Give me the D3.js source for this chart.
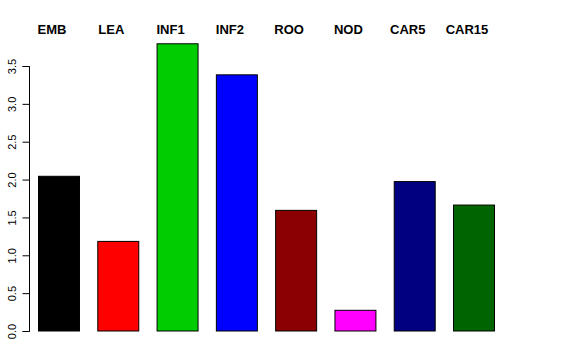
<!DOCTYPE html>
<html><head><meta charset="utf-8">
<script src="https://cdn.jsdelivr.net/npm/d3@7"></script>
<style>body{margin:0;background:#fff}svg{display:block}</style>
</head><body>
<svg id="c" width="576" height="360"></svg>
<script>
const categories = ["EMB","LEA","INF1","INF2","ROO","NOD","CAR5","CAR15"];
const values = [2.05, 1.19, 3.80, 3.39, 1.60, 0.28, 1.98, 1.67];
const colors = ["#000000","#FF0000","#00CD00","#0000FF","#8B0000","#FF00FF","#000080","#006400"];
const yTicks = [0, 0.5, 1, 1.5, 2, 2.5, 3, 3.5];

const svg = d3.select("#c");
const x = d3.scaleBand().domain(categories).range([38, 495]).paddingInner(0.292).paddingOuter(0);
const y = d3.scaleLinear().domain([0, 3.5]).range([331, 66]);

svg.selectAll("rect.bar").data(categories).enter().append("rect")
  .attr("x", d => x(d) + 0.5)
  .attr("y", (d,i) => y(values[i]) + 0.5)
  .attr("width", x.bandwidth() - 1)
  .attr("height", (d,i) => y(0) - y(values[i]) - 0.5)
  .attr("fill", (d,i) => colors[i])
  .attr("stroke", "#000")
  .attr("stroke-width", 1);

svg.selectAll("text.lab").data(categories).enter().append("text")
  .attr("x", d => x(d) + x.bandwidth()/2 - 7)
  .attr("y", 33.5)
  .attr("text-anchor", "middle")
  .attr("font-family", "Liberation Sans, Arial, sans-serif")
  .attr("font-weight", "bold")
  .attr("font-size", "13px")
  .text(d => d);

const axis = d3.axisLeft(y).tickValues(yTicks).tickFormat(d3.format(".1f")).tickSize(7).tickPadding(5);
const g = svg.append("g").attr("transform", "translate(29.5,0)").call(axis);
g.select(".domain").attr("d", `M-7,${y(0)+0.5}H0V${y(3.5)+0.5}H-7`).attr("stroke", "#000");
g.selectAll(".tick line").attr("stroke", "#000");
g.selectAll(".tick text")
  .attr("font-family", "Liberation Sans, Arial, sans-serif")
  .attr("font-size", "11px")
  .attr("fill", "#000")
  .attr("transform", "rotate(-90)")
  .attr("x", 0).attr("y", -17)
  .attr("dy", "0.35em")
  .attr("text-anchor", "middle");
</script>
</body></html>
